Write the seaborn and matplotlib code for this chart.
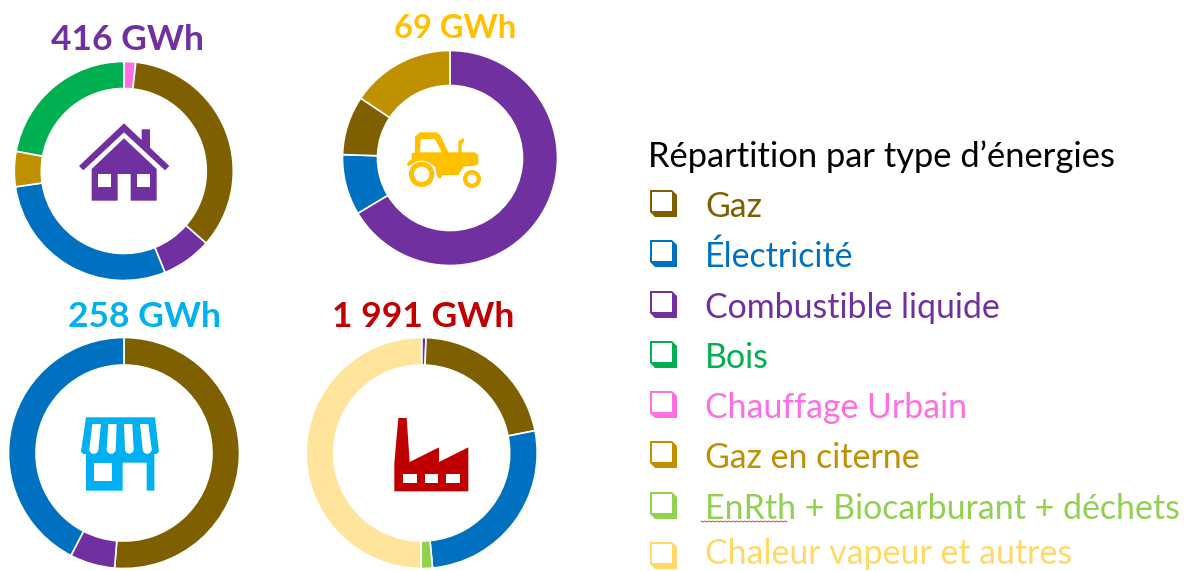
import matplotlib
matplotlib.use("Agg")
import matplotlib.pyplot as plt
import seaborn as sns
from matplotlib.patches import Circle, Polygon

W, H = 1184, 571

energies = ["Gaz", "Électricité", "Combustible liquide", "Bois", "Chauffage Urbain",
            "Gaz en citerne", "EnRth + Biocarburant + déchets", "Chaleur vapeur et autres"]
legend_colors = ["#7F6000", "#0070C0", "#7030A0", "#00B050", "#FF6FDF",
                 "#BF9000", "#92D050", "#FFD966"]
pie_colors = dict(zip(energies, sns.color_palette(legend_colors[:7] + ["#FFE49B"])))

residentiel_labels = ["Chauffage Urbain", "Gaz", "Combustible liquide", "Électricité", "Gaz en citerne", "Bois"]
residentiel_values = [1.75, 34.7, 7.4, 28.8, 5.2, 22.1]
agriculture_labels = ["Combustible liquide", "Électricité", "Gaz", "Gaz en citerne"]
agriculture_values = [66.4, 9.1, 8.9, 15.6]
tertiaire_labels = ["Gaz", "Combustible liquide", "Électricité"]
tertiaire_values = [51.3, 6.3, 42.4]
industrie_labels = ["Combustible liquide", "Gaz", "Électricité", "EnRth + Biocarburant + déchets",
                    "Chaleur vapeur et autres"]
industrie_values = [0.6, 21.3, 26.6, 1.6, 49.9]

sns.set_theme(style="white")
plt.rcParams["font.family"] = ["Lato", "DejaVu Sans"]

fig = plt.figure(figsize=(W / 100, H / 100), dpi=100)
canvas = fig.add_axes([0, 0, 1, 1])
canvas.set_xlim(0, W)
canvas.set_ylim(H, 0)
canvas.axis("off")
canvas.set_zorder(5)
canvas.patch.set_alpha(0)


def donut(cx, cy, outer, inner, labels, values):
    ax = fig.add_axes([(cx - outer) / W, 1 - (cy + outer) / H, 2 * outer / W, 2 * outer / H])
    ax.pie(values, colors=[pie_colors[l] for l in labels], startangle=90, counterclock=False,
           radius=1, wedgeprops=dict(width=1 - inner / outer, edgecolor="white", linewidth=1.2))
    ax.set_xlim(-1, 1)
    ax.set_ylim(-1, 1)


def shape(points, color, ox, oy):
    canvas.add_patch(Polygon([(ox + x / 3, oy + y / 3) for x, y in points], closed=True,
                             facecolor=color, edgecolor="none"))


def disc(x, y, r, color, ox, oy):
    canvas.add_patch(Circle((ox + x / 3, oy + y / 3), r / 3, facecolor=color, edgecolor="none"))


donut(123.8, 171, 109.5, 82.5, residentiel_labels, residentiel_values)
donut(450, 158, 107.5, 72.5, agriculture_labels, agriculture_values)
donut(124, 453, 115.5, 88, tertiaire_labels, tertiaire_values)
donut(421.7, 453, 115.5, 88, industrie_labels, industrie_values)

for txt, x, y, col, size in [("416 GWh", 127.5, 40, "#7030A0", 25.5), ("69 GWh", 455, 29, "#FFC000", 23.5),
                             ("258 GWh", 144.5, 317, "#00B0F0", 25.5), ("1 991 GWh", 423, 317, "#C00000", 25.5)]:
    canvas.text(x, y, txt, color=col, fontsize=size, fontweight="bold", ha="center", va="center")

# house
c = "#7030A0"
shape([(372, 370), (425, 420), (425, 388), (450, 388), (450, 443), (508, 498), (495, 511),
       (372, 397), (250, 511), (237, 498)], c, 0, 0)
shape([(372, 415), (470, 507), (470, 602), (392, 602), (392, 522), (353, 522), (353, 602),
       (275, 602), (275, 507)], c, 0, 0)
shape([(295, 522), (333, 522), (333, 560), (295, 560)], "white", 0, 0)
shape([(411, 522), (450, 522), (450, 560), (411, 560)], "white", 0, 0)

# tractor
c = "#FFC000"
shape([(35, 85), (45, 82), (45, 35), (60, 22), (110, 22), (120, 30), (145, 82), (175, 82), (175, 50),
       (190, 38), (192, 48), (185, 58), (185, 82), (225, 82), (235, 90), (235, 118), (225, 122),
       (190, 125), (175, 150), (128, 150), (120, 163), (112, 155), (105, 125), (85, 112), (55, 108),
       (35, 118), (25, 123), (20, 116), (35, 102)], c, 400, 125)
shape([(62, 42), (105, 42), (125, 82), (60, 82)], "white", 400, 125)
disc(65, 148, 41, "white", 400, 125)
disc(65, 148, 38, c, 400, 125)
disc(65, 148, 23, "white", 400, 125)
disc(216, 162, 32, "white", 400, 125)
disc(216, 162, 27, c, 400, 125)
disc(216, 162, 14, "white", 400, 125)

# shop
c = "#00B0F0"
shape([(33, 22), (240, 22), (252, 125), (245, 132), (238, 132), (238, 242), (215, 242), (215, 158),
       (143, 158), (143, 242), (33, 242), (33, 132), (25, 132), (18, 125)], c, 75, 410)
for top_l, top_r, bot_l, bot_r in [(52, 78, 43, 70), (100, 125, 95, 122), (147, 172, 150, 176), (195, 220, 203, 230)]:
    shape([(top_l, 42), (top_r, 42), (bot_r, 118), (bot_l, 118)], "white", 75, 410)
    disc((bot_l + bot_r) / 2, 118, (bot_r - bot_l) / 2, "white", 75, 410)
shape([(57, 158), (110, 158), (110, 212), (57, 212)], "white", 75, 410)

# factory
c = "#C00000"
shape([(298, 604), (298, 520), (310, 384), (335, 384), (344, 516), (432, 472), (432, 516), (520, 472),
       (520, 604)], c, 295, 290)
for x0 in [325, 390, 454]:
    shape([(x0, 552), (x0 + 40, 552), (x0 + 40, 580), (x0, 580)], "white", 295, 290)

# legend
canvas.text(648, 157, "Répartition par type d’énergies", color="black", fontsize=24.8, va="center")
row_ys = [190, 240, 291, 341, 391, 441, 492, 542]
text_ys = [207, 257, 308, 358, 408, 458, 509, 554]  # last one lifted so it stays inside the picture
for name, col, y, ty in zip(energies, legend_colors, row_ys, text_ys):
    canvas.add_patch(Polygon([(650, y), (672, y), (677, y + 5), (677, y + 27), (655, y + 27), (650, y + 22)],
                             closed=True, facecolor=col, edgecolor="none"))
    canvas.add_patch(Polygon([(652, y + 2), (672, y + 2), (672, y + 21), (652, y + 21)],
                             closed=True, facecolor="white", edgecolor="none"))
    canvas.text(705, ty, name, color=col, fontsize=24.4, va="center")

# spell-check underline below EnRth
squiggle_x = [701 + i * 2 for i in range(44)]
squiggle_y = [521 + (i % 2) for i in range(44)]
canvas.plot(squiggle_x, squiggle_y, color="#E04040", lw=0.7)

fig.savefig("out.png", dpi=100)
